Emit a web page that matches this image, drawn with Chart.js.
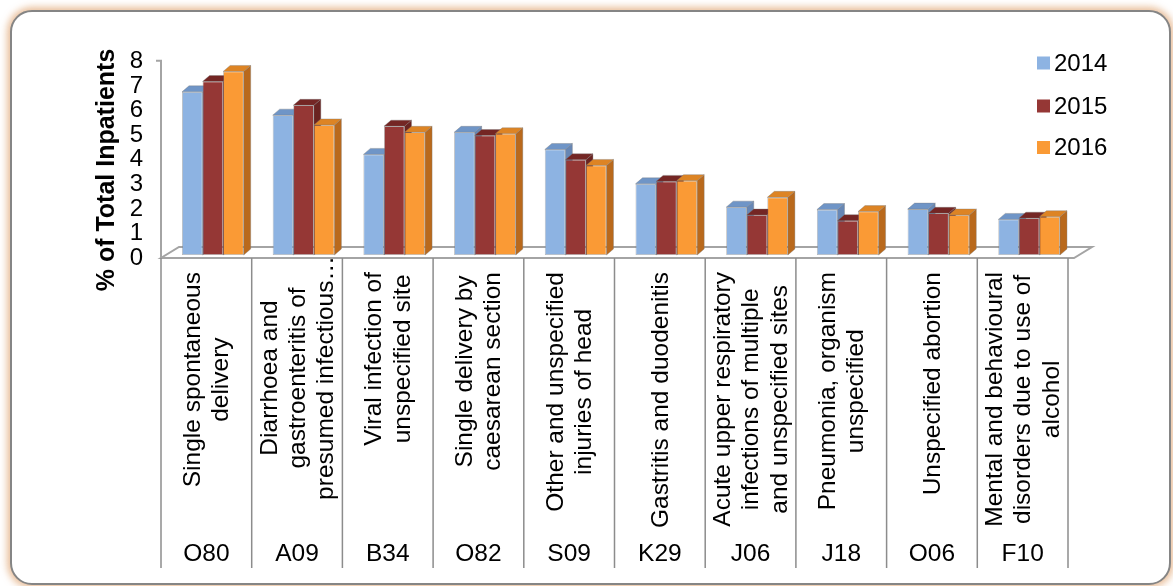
<!DOCTYPE html>
<html>
<head>
<meta charset="utf-8">
<script src="https://cdn.jsdelivr.net/npm/chart.js@4.4.1/dist/chart.umd.min.js"></script>
<style>
  html, body { margin: 0; padding: 0; background: #fff; overflow: hidden; }
  #frame {
    position: absolute; left: 10px; top: 10px; width: 1157px; height: 571px;
    border: 2px solid #858585; border-radius: 22px; background: #fff;
    box-shadow: 0 0 7px 3px rgba(226, 170, 122, 0.75);
  }
  #wrap { position: absolute; left: 0; top: 0; width: 1173px; height: 586px; }
</style>
</head>
<body>
<div id="frame"></div>
<div id="wrap"><canvas id="chart"></canvas></div>
<script>
// ICD codes and their descriptions (one array entry per text line)
const codes = ["O80", "A09", "B34", "O82", "S09", "K29", "J06", "J18", "O06", "F10"];
const names = [
  ["Single spontaneous", "delivery"],
  ["Diarrhoea and", "gastroenteritis of", "presumed infectious…"],
  ["Viral infection of", "unspecified site"],
  ["Single delivery by", "caesarean section"],
  ["Other and unspecified", "injuries of head"],
  ["Gastritis and duodenitis"],
  ["Acute upper respiratory", "infections of multiple", "and unspecified sites"],
  ["Pneumonia, organism", "unspecified"],
  ["Unspecified abortion"],
  ["Mental and behavioural", "disorders due to use of", "alcohol"]
];
const years = ["2014", "2015", "2016"];
const pct2014 = [6.65, 5.7, 4.1, 5.0, 4.3, 2.9, 1.95, 1.85, 1.87, 1.45];
const pct2015 = [7.07, 6.1, 5.25, 4.87, 3.88, 3.0, 1.63, 1.4, 1.7, 1.5];
const pct2016 = [7.48, 5.3, 5.0, 4.94, 3.65, 3.03, 2.35, 1.77, 1.63, 1.56];
const yMin = 0, yMax = 8, yStep = 1;

// colours: front, top and side faces of the 3D columns
const frontColors = ["#8DB3E2", "#953735", "#FA9A35"];
const topColors = ["#6F95C7", "#742624", "#DD8424"];
const sideColors = ["#6787B5", "#6A2321", "#B9691C"];

const FONT = "'Liberation Sans', Arial, sans-serif";
const DX = 7, DY = 6;          // column depth
const SHIFT = 6.5;             // columns sit a bit behind the floor front
const FLOOR_DX = 18, FLOOR_DY = 11;

const depthPlugin = {
  id: "depth",
  beforeDatasetsDraw(chart) {
    const { ctx, scales: { x, y } } = chart;
    const n = codes.length;
    const catW = (x.right - x.left) / n;
    const left = x.left - SHIFT;
    const fy = y.bottom + 3;
    ctx.save();

    // floor
    ctx.strokeStyle = "#a4a4a4";
    ctx.lineWidth = 2;
    ctx.beginPath();
    ctx.moveTo(left, fy);
    ctx.lineTo(left + n * catW + 6, fy);
    ctx.lineTo(left + n * catW + 6 + FLOOR_DX, fy - FLOOR_DY);
    ctx.lineTo(left + FLOOR_DX, fy - FLOOR_DY);
    ctx.closePath();
    ctx.stroke();

    // value axis line + small tick at the top
    ctx.beginPath();
    ctx.moveTo(left, y.top + 1);
    ctx.lineTo(left, fy);
    ctx.moveTo(left - 5, y.top + 2);
    ctx.lineTo(left, y.top + 2);
    ctx.stroke();

    // category dividers running down through the label area
    ctx.strokeStyle = "#8c8c8c";
    ctx.lineWidth = 1.5;
    for (let i = 0; i <= n; i++) {
      const xx = left + i * catW;
      ctx.beginPath();
      ctx.moveTo(xx, fy);
      ctx.lineTo(xx, 568);
      ctx.stroke();
    }

    // side + top faces
    ctx.lineWidth = 0.6;
    ctx.strokeStyle = "rgba(120,120,120,0.6)";
    chart.data.datasets.forEach((ds, di) => {
      chart.getDatasetMeta(di).data.forEach(bar => {
        const l = bar.x - bar.width / 2, r = bar.x + bar.width / 2;
        const t = bar.y, b = bar.base;
        ctx.fillStyle = sideColors[di];
        ctx.beginPath();
        ctx.moveTo(r, t); ctx.lineTo(r + DX, t - DY);
        ctx.lineTo(r + DX, b - DY); ctx.lineTo(r, b);
        ctx.closePath(); ctx.fill(); ctx.stroke();
        ctx.fillStyle = topColors[di];
        ctx.beginPath();
        ctx.moveTo(l, t); ctx.lineTo(l + DX, t - DY);
        ctx.lineTo(r + DX, t - DY); ctx.lineTo(r, t);
        ctx.closePath(); ctx.fill(); ctx.stroke();
      });
    });
    ctx.restore();
  },
  afterDraw(chart) {
    const { ctx, scales: { x } } = chart;
    const n = codes.length;
    const catW = (x.right - x.left) / n;
    const left = x.left - SHIFT;
    ctx.save();
    ctx.fillStyle = "#000";

    // rotated descriptions: lines centred on each other, block top aligned;
    // a truncated (…) label is centred in the label box instead
    ctx.font = "24.5px " + FONT;
    const lineH = 28.3;
    names.forEach((lines, i) => {
      const cx = left + (i + 0.5) * catW;
      const maxW = Math.max(...lines.map(s => ctx.measureText(s).width));
      const truncated = lines.some(s => s.endsWith("…"));
      const cy = truncated ? 378 : 272 + maxW / 2;
      lines.forEach((s, j) => {
        const lx = cx + (j - (lines.length - 1) / 2) * lineH;
        ctx.save();
        ctx.translate(lx, cy);
        ctx.rotate(-Math.PI / 2);
        ctx.textAlign = "center";
        ctx.textBaseline = "middle";
        ctx.fillText(s, 0, 1);
        ctx.restore();
      });
      // code underneath
      ctx.textAlign = "center";
      ctx.textBaseline = "middle";
      ctx.fillText(codes[i], cx, 554);
    });

    // axis title
    ctx.save();
    ctx.translate(107, 170);
    ctx.rotate(-Math.PI / 2);
    ctx.font = "bold 25px " + FONT;
    ctx.textAlign = "center";
    ctx.textBaseline = "middle";
    ctx.fillText("% of Total Inpatients", 0, 0);
    ctx.restore();

    // legend
    ctx.font = "24px " + FONT;
    ctx.textAlign = "left";
    ctx.textBaseline = "middle";
    const legY = [63, 106, 147.5];
    chart.data.datasets.forEach((ds, di) => {
      ctx.fillStyle = ds.backgroundColor;
      ctx.fillRect(1037, legY[di] - 6.5, 13, 13);
      ctx.fillStyle = "#000";
      ctx.fillText(ds.label, 1054, legY[di] + 1);
    });
    ctx.restore();
  }
};

const series = [pct2014, pct2015, pct2016];
new Chart(document.getElementById("chart"), {
  type: "bar",
  data: {
    labels: codes,
    datasets: years.map((yr, i) => ({
      label: yr,
      data: series[i],
      backgroundColor: frontColors[i],
      borderColor: "rgba(120,120,120,0.55)",
      borderWidth: 0.8,
      borderSkipped: false,
      barPercentage: 1,
      categoryPercentage: 0.68
    }))
  },
  options: {
    responsive: true,
    maintainAspectRatio: false,
    animation: false,
    layout: { padding: { left: 0, top: 58.7, right: 98.5, bottom: 331 } },
    plugins: { legend: { display: false }, tooltip: { enabled: false } },
    scales: {
      x: { display: false },
      y: {
        min: yMin, max: yMax,
        afterFit(scale) { scale.width = 167.5; },
        grid: { display: false, drawTicks: false },
        border: { display: false },
        ticks: {
          stepSize: yStep,
          autoSkip: false,
          padding: 24.5,
          labelOffset: 3,
          color: "#000",
          font: { family: FONT, size: 24 }
        }
      }
    }
  },
  plugins: [depthPlugin]
});
</script>
</body>
</html>
